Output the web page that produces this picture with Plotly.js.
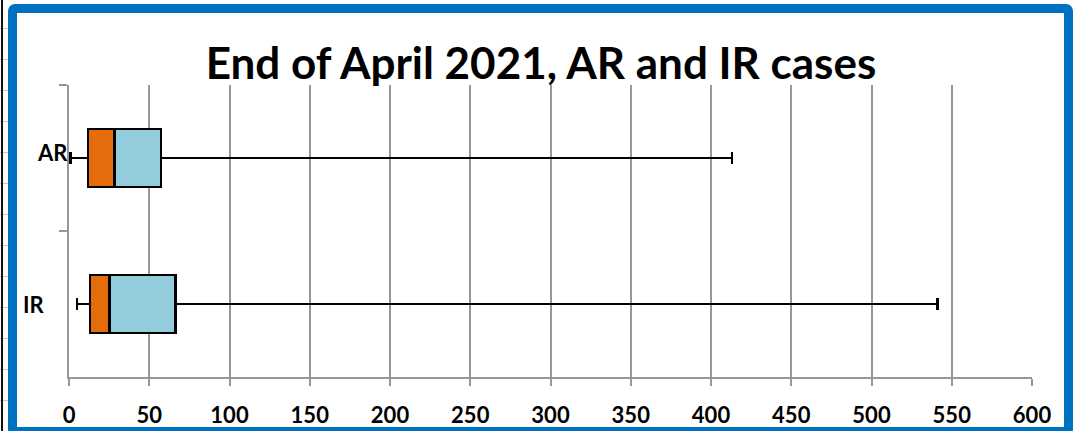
<!DOCTYPE html>
<html>
<head>
<meta charset="utf-8">
<script src="https://cdn.plot.ly/plotly-3.0.1.min.js"></script>
<style>
  html, body { margin:0; padding:0; background:#fff; }
  #wrap { position:relative; width:1074px; height:431px; overflow:hidden; background:#fff; }
  #chart { position:absolute; left:0; top:0; width:1074px; height:431px; }
  #frame { position:absolute; left:8px; top:4px; width:1065px; height:432px; box-sizing:border-box;
           border:9px solid #0070C0; border-radius:7px; pointer-events:none; }
  #sheet { position:absolute; left:0; top:0; width:8px; height:431px; pointer-events:none;
           background: repeating-linear-gradient(to bottom, transparent 0, transparent 28px, #c8c8c8 28px, #c8c8c8 29px, transparent 29px, transparent 31px); }
  #sheetline { position:absolute; left:1px; top:0; width:2px; height:431px; background:#111; pointer-events:none; }
</style>
</head>
<body>
<div id="wrap">
  <div id="chart"></div>
  <div id="sheet"></div>
  <div id="sheetline"></div>
  <div id="frame"></div>
</div>
<script>
// Data
const categories = ['AR', 'IR'];
const minVals    = [1, 5];
const q1Vals     = [11.7, 13];
const medianVals = [28.5, 25.3];
const q3Vals     = [57.2, 66.5];
const maxVals    = [413, 541];
const xTicks     = [0, 50, 100, 150, 200, 250, 300, 350, 400, 450, 500, 550, 600];

// Label placement (style only): right edge in px, vertical shift in px
const labelRight  = [69, 46];
const labelShiftY = [6, 0];

const lowerSeg = medianVals.map((m, i) => m - q1Vals[i]);
const upperSeg = q3Vals.map((q, i) => q - medianVals[i]);
const lowWhisker = q1Vals.map((q, i) => q - minVals[i]);
const highWhisker = maxVals.map((m, i) => m - q3Vals[i]);
const zeros = categories.map(() => 0);

const FONT = 'Lato, "Open Sans", sans-serif';
const whisker = { type: 'data', symmetric: false, color: '#000', thickness: 2.5, width: 6 };

const traces = [
  { type: 'bar', orientation: 'h', y: categories, x: q1Vals,
    marker: { color: 'rgba(0,0,0,0)', line: { width: 0 } },
    error_x: Object.assign({}, whisker, { array: zeros, arrayminus: lowWhisker }),
    hoverinfo: 'skip', showlegend: false },
  { type: 'bar', orientation: 'h', y: categories, x: lowerSeg,
    marker: { color: '#E46C0A', line: { color: '#000', width: 2.5 } },
    showlegend: false },
  { type: 'bar', orientation: 'h', y: categories, x: upperSeg,
    marker: { color: '#93CDDD', line: { color: '#000', width: 2.5 } },
    error_x: Object.assign({}, whisker, { array: highWhisker, arrayminus: zeros }),
    showlegend: false }
];

const ML = 69, MR = 42, MT = 85, MB = 54, W = 1074;
const annotations = categories.map((c, i) => ({
  text: c, xref: 'paper', x: (labelRight[i] - ML) / (W - ML - MR), xanchor: 'right',
  yref: 'y', y: c, yanchor: 'middle', yshift: labelShiftY[i], showarrow: false, borderpad: 0,
  font: { family: FONT, size: 22, color: '#000', weight: 'bold' }
}));

const layout = {
  width: W, height: 431,
  margin: { l: ML, r: MR, t: MT, b: MB },
  paper_bgcolor: '#fff', plot_bgcolor: '#fff',
  barmode: 'stack', bargap: 0.6,
  showlegend: false,
  annotations: annotations,
  title: { text: 'End of April 2021, AR and IR cases',
           font: { family: FONT, size: 44, color: '#000', weight: 'bold' },
           x: 541 / W, xref: 'container', xanchor: 'center',
           y: 1 - 63.5/431, yref: 'container', yanchor: 'middle' },
  xaxis: { range: [0, 600], tickvals: xTicks, ticktext: xTicks.map(String),
           showgrid: true, gridcolor: '#979797', gridwidth: 2,
           zeroline: false, showline: true, linecolor: '#979797', linewidth: 2,
           ticks: 'outside', ticklen: 7, tickwidth: 2, tickcolor: '#979797',
           ticklabelstandoff: 11,
           tickfont: { family: FONT, size: 22, color: '#000', weight: 'bold' } },
  yaxis: { type: 'category', categoryarray: categories, autorange: 'reversed',
           showgrid: false, zeroline: false, showline: true, linecolor: '#979797', linewidth: 2,
           ticks: 'outside', tickson: 'boundaries', ticklen: 8, tickwidth: 2, tickcolor: '#979797',
           showticklabels: false }
};

Plotly.newPlot('chart', traces, layout, { displayModeBar: false, staticPlot: true });
</script>
</body>
</html>
